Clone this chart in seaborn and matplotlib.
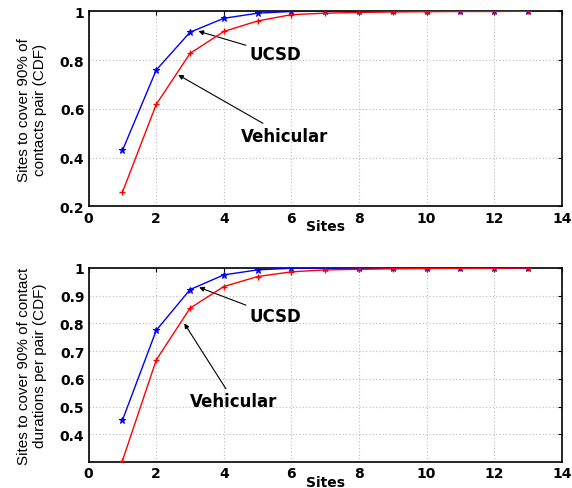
import matplotlib
matplotlib.use("Agg")
import matplotlib.pyplot as plt
import seaborn as sns

# data
sites = [1, 2, 3, 4, 5, 6, 7, 8, 9, 10, 11, 12, 13]

ucsd_pairs = [0.429, 0.759, 0.914, 0.971, 0.992, 0.999, 1.0, 1.0, 1.0, 1.0, 1.0, 1.0, 1.0]
veh_pairs = [0.258, 0.618, 0.827, 0.917, 0.960, 0.986, 0.992, 0.995, 0.997, 0.998, 0.999, 0.999, 1.0]

ucsd_dur = [0.451, 0.775, 0.922, 0.975, 0.993, 0.999, 1.0, 1.0, 1.0, 1.0, 1.0, 1.0, 1.0]
veh_dur = [0.305, 0.668, 0.855, 0.933, 0.969, 0.986, 0.993, 0.995, 0.997, 0.998, 0.999, 0.999, 1.0]

ylabels = ["Sites to cover 90% of\ncontacts pair (CDF)",
           "Sites to cover 90% of contact\ndurations per pair (CDF)"]

sns.set_style("white")
plt.rcParams['font.family'] = ['DejaVu Sans']
plt.rcParams['text.color'] = 'black'
plt.rcParams['axes.labelcolor'] = 'black'
plt.rcParams['xtick.color'] = 'black'
plt.rcParams['ytick.color'] = 'black'

fig = plt.figure(figsize=(5.72, 4.89), dpi=100)
ax1 = fig.add_axes([0.155, 0.576, 0.827, 0.399])
ax2 = fig.add_axes([0.155, 0.053, 0.827, 0.397])


def draw(ax, ucsd, veh, ylab, ylim, yticks, ucsd_ann, veh_ann):
    sns.lineplot(x=sites, y=ucsd, color="blue", marker="*", markersize=4.5,
                 linewidth=1.0, markeredgewidth=0.8, markeredgecolor="blue",
                 ax=ax, zorder=3)
    sns.lineplot(x=sites, y=veh, color="red", marker="+", markersize=4.5,
                 linewidth=1.0, markeredgewidth=1.0, markeredgecolor="red",
                 ax=ax, zorder=4)
    ax.set_xlim(0, 14)
    ax.set_ylim(*ylim)
    ax.set_xticks(range(0, 15, 2))
    ax.set_yticks(yticks)
    ax.set_yticklabels([f"{t:g}" for t in yticks])
    ax.grid(True, linestyle=(0, (1, 2)), color="#bbbbbb", linewidth=0.8)
    for s in ax.spines.values():
        s.set_linewidth(1.2)
        s.set_color("black")
    ax.tick_params(direction="in", top=True, right=True, length=3, width=0.8,
                   labelsize=10, pad=3)
    for lab in ax.get_xticklabels() + ax.get_yticklabels():
        lab.set_fontweight("bold")
    ax.set_xlabel("Sites", fontsize=10, fontweight="bold", labelpad=-4)
    ax.set_ylabel(ylab, fontsize=11, family="Liberation Sans",
                  linespacing=1.2, labelpad=9)
    ax.annotate("UCSD", xy=ucsd_ann[0], xytext=ucsd_ann[1], ha="left", va="center",
                fontsize=12, fontweight="bold",
                arrowprops=dict(arrowstyle="-|>", color="black", lw=0.8,
                                mutation_scale=7, shrinkA=0, shrinkB=0))
    ax.annotate("Vehicular", xy=veh_ann[0], xytext=veh_ann[1], ha="left", va="center",
                fontsize=12, fontweight="bold",
                arrowprops=dict(arrowstyle="-|>", color="black", lw=0.8,
                                mutation_scale=7, shrinkA=0, shrinkB=0))


draw(ax1, ucsd_pairs, veh_pairs, ylabels[0], (0.2, 1.0), [0.2, 0.4, 0.6, 0.8, 1.0],
     ((3.25, 0.918), (4.75, 0.825)), ((2.65, 0.739), (4.5, 0.49)))
draw(ax2, ucsd_dur, veh_dur, ylabels[1], (0.3, 1.0), [0.4, 0.5, 0.6, 0.7, 0.8, 0.9, 1.0],
     ((3.27, 0.93), (4.75, 0.826)), ((2.83, 0.80), (3.0, 0.52)))

fig.savefig("out.png", dpi=100)
